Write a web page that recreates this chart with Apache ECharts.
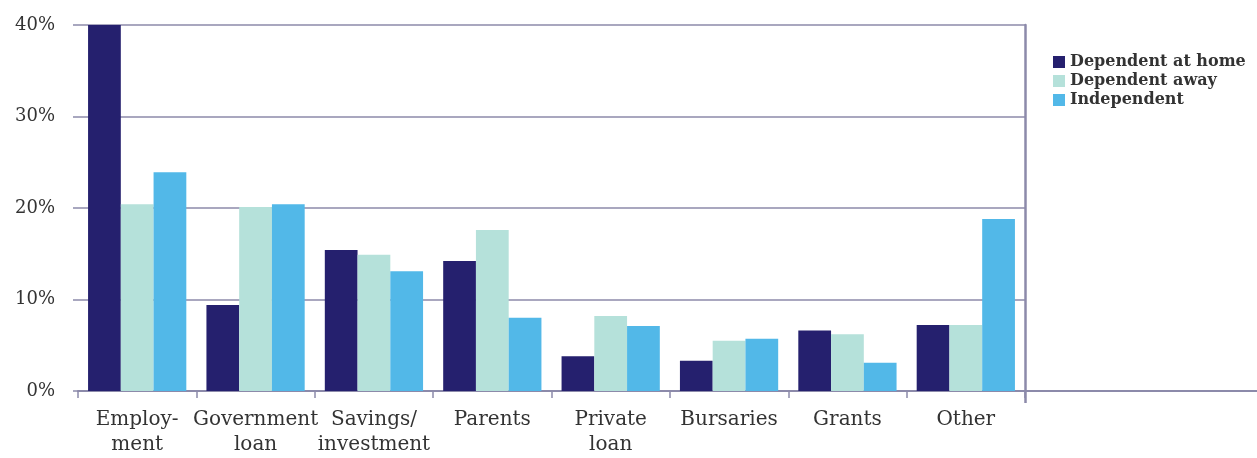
<!DOCTYPE html>
<html>
<head>
<meta charset="utf-8">
<script src="https://cdn.jsdelivr.net/npm/echarts@6/dist/echarts.min.js"></script>
<style>
  html, body { margin: 0; padding: 0; background: #ffffff; }
  #chart { width: 1257px; height: 458px; }
</style>
</head>
<body>
<div id="chart"></div>
<script>
// Sources of student income, share by living situation (%)
const categories = [
  'Employ-\nment', 'Government\nloan', 'Savings/\ninvestment', 'Parents',
  'Private\nloan', 'Bursaries', 'Grants', 'Other'
];
const seriesNames = ['Dependent at home', 'Dependent away', 'Independent'];
const dependentAtHome = [40.0, 9.4, 15.4, 14.2, 3.8, 3.3, 6.6, 7.2];
const dependentAway   = [20.4, 20.1, 14.9, 17.6, 8.2, 5.5, 6.2, 7.2];
const independent     = [23.9, 20.4, 13.1, 8.0, 7.1, 5.7, 3.1, 18.8];
const yTicks = { min: 0, max: 40, step: 10 };

const colors = ['#25206e', '#b5e1da', '#52b8e8'];
const lineColor = '#8c8aaa';
const textColor = '#333333';
const serif = 'DejaVu Serif';

const chart = echarts.init(document.getElementById('chart'));

const values = [dependentAtHome, dependentAway, independent];

chart.setOption({
  animation: false,
  backgroundColor: '#ffffff',
  textStyle: { fontFamily: serif, color: textColor },
  color: colors,
  legend: {
    orient: 'vertical',
    left: 1048,
    top: 49,
    icon: 'rect',
    itemWidth: 12,
    itemHeight: 12,
    itemGap: 3,
    textStyle: { fontFamily: serif, fontSize: 16, fontWeight: 'bold', color: textColor },
    data: seriesNames
  },
  grid: [
    { left: 78, right: 232, top: 25, bottom: 67 },
    { left: 1025, right: 0, top: 25, bottom: 67 }
  ],
  xAxis: [
    {
      type: 'category',
      gridIndex: 0,
      data: categories,
      axisLine: { show: true, lineStyle: { color: lineColor, width: 2 } },
      axisTick: { show: true, length: 7, lineStyle: { color: lineColor, width: 1.5 } },
      axisLabel: {
        fontFamily: serif, fontSize: 20, color: textColor,
        lineHeight: 25, margin: 16, interval: 0
      }
    },
    {
      // baseline continuing under the legend panel
      type: 'value',
      gridIndex: 1,
      min: 0, max: 1, interval: 1,
      axisLine: { show: true, lineStyle: { color: lineColor, width: 2 } },
      axisTick: { show: true, customValues: [0], length: 12, lineStyle: { color: lineColor, width: 2.5 } },
      axisLabel: { show: false },
      splitLine: { show: false }
    }
  ],
  yAxis: [
    {
      type: 'value',
      gridIndex: 0,
      min: yTicks.min, max: yTicks.max, interval: yTicks.step,
      axisLine: { show: false },
      axisTick: { show: true, length: 5, lineStyle: { color: lineColor, width: 1.5 } },
      axisLabel: {
        fontFamily: serif, fontSize: 18, color: textColor, margin: 23,
        formatter: '{value}%'
      },
      splitLine: { show: true, lineStyle: { color: lineColor, width: 1.5 } }
    },
    {
      // divider between plot and legend panel
      type: 'value',
      gridIndex: 0,
      position: 'right',
      min: yTicks.min, max: yTicks.max, interval: yTicks.step,
      axisLine: { show: true, lineStyle: { color: lineColor, width: 2.5 } },
      axisTick: { show: false },
      axisLabel: { show: false },
      splitLine: { show: false }
    },
    {
      type: 'value',
      gridIndex: 1,
      min: 0, max: 1,
      axisLine: { show: false },
      axisTick: { show: false },
      axisLabel: { show: false },
      splitLine: { show: false }
    }
  ],
  series: seriesNames.map((name, i) => ({
    name: name,
    type: 'bar',
    xAxisIndex: 0,
    yAxisIndex: 0,
    data: values[i],
    barGap: '0%',
    barCategoryGap: '17%',
    itemStyle: { color: colors[i] }
  }))
});
</script>
</body>
</html>
